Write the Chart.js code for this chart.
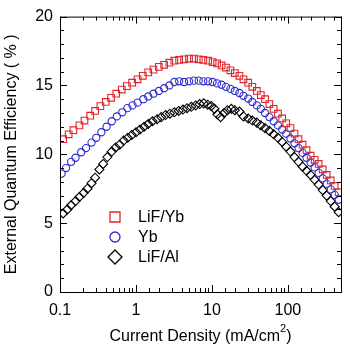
<!DOCTYPE html>
<html>
<head>
<meta charset="utf-8">
<script src="https://cdn.jsdelivr.net/npm/chart.js@4/dist/chart.umd.min.js"></script>
<style>
  html, body { margin: 0; padding: 0; background: #fff; }
</style>
</head>
<body>
<canvas id="eqe" width="350" height="349"></canvas>
<script>
// Series names, as in the legend
const seriesNames = ["LiF/Yb", "Yb", "LiF/Al"];

// Current density (mA/cm2) and EQE (%)
const lifYbX = [0.11, 0.13, 0.15, 0.18, 0.21, 0.25, 0.29, 0.34, 0.40, 0.47, 0.55, 0.65, 0.76, 0.89, 1.05, 1.23, 1.45, 1.7, 2.0, 2.35,
  2.75, 3.2, 3.7, 4.3, 5.0, 5.8, 6.7, 7.7, 8.9, 10.2, 11.7, 13.4, 15.3, 17.5, 20, 23, 26, 30, 34, 39,
  44, 50, 57, 65, 74, 84, 95, 108, 122, 138, 156, 176, 199, 225, 254, 287, 324, 366, 413, 466];
const lifYbEqe = [11.1, 11.45, 11.75, 12.1, 12.45, 12.8, 13.15, 13.5, 13.8, 14.1, 14.4, 14.7, 14.95, 15.2, 15.45, 15.7, 15.95, 16.15, 16.35, 16.5,
  16.65, 16.8, 16.85, 16.9, 16.95, 16.95, 16.9, 16.85, 16.8, 16.7, 16.6, 16.45, 16.3, 16.1, 15.9, 15.7, 15.45, 15.2, 14.9, 14.6,
  14.3, 14.0, 13.65, 13.3, 12.95, 12.6, 12.25, 11.9, 11.5, 11.1, 10.7, 10.3, 9.9, 9.6, 9.3, 8.9, 8.5, 8.1, 7.7, 7.25];

const ybX = [0.105, 0.12, 0.14, 0.16, 0.19, 0.22, 0.26, 0.30, 0.35, 0.41, 0.48, 0.56, 0.66, 0.77, 0.90, 1.05, 1.25, 1.45, 1.7, 2.0,
  2.35, 2.75, 3.2, 3.7, 4.3, 5.0, 5.8, 6.7, 7.7, 8.9, 10.2, 11.7, 13.4, 15.3, 17.5, 20, 23, 26, 30, 34,
  39, 44, 50, 57, 65, 74, 84, 95, 108, 122, 138, 156, 176, 199, 225, 254, 287, 324, 366, 413, 466];
const ybEqe = [8.6, 9.0, 9.45, 9.75, 10.15, 10.45, 10.85, 11.2, 11.6, 12.0, 12.4, 12.75, 13.05, 13.35, 13.55, 13.75, 14.0, 14.2, 14.4, 14.6,
  14.8, 15.0, 15.25, 15.3, 15.25, 15.3, 15.35, 15.35, 15.3, 15.3, 15.25, 15.15, 15.05, 14.9, 14.75, 14.6, 14.45, 14.25, 14.05, 13.8,
  13.55, 13.3, 13.0, 12.7, 12.4, 12.1, 11.8, 11.5, 11.15, 10.8, 10.45, 10.1, 9.75, 9.4, 9.05, 8.65, 8.25, 7.85, 7.45, 7.05, 6.7];

const lifAlX = [0.11, 0.125, 0.14, 0.16, 0.18, 0.205, 0.23, 0.26, 0.29, 0.33, 0.37, 0.42, 0.48, 0.54, 0.61, 0.69, 0.78, 0.88, 1.0, 1.13,
  1.28, 1.45, 1.65, 1.9, 2.15, 2.45, 2.8, 3.2, 3.65, 4.15, 4.7, 5.35, 6.1, 6.9, 7.8, 8.8, 9.8, 10.8, 11.8, 13,
  14.5, 16, 18, 20, 23, 26, 30, 34, 39, 44, 50, 57, 65, 74, 84, 95, 108, 122, 138, 156,
  176, 199, 225, 254, 287, 324, 366, 413, 466];
const lifAlEqe = [5.7, 6.0, 6.3, 6.6, 6.9, 7.2, 7.5, 7.9, 8.3, 8.9, 9.3, 9.8, 10.2, 10.5, 10.7, 11.0, 11.2, 11.4, 11.6, 11.8,
  12.0, 12.2, 12.4, 12.55, 12.7, 12.85, 12.95, 13.05, 13.15, 13.25, 13.35, 13.45, 13.55, 13.65, 13.7, 13.6, 13.5, 13.3, 12.9, 12.7,
  13.0, 13.2, 13.3, 13.2, 13.1, 12.75, 12.6, 12.45, 12.3, 12.1, 11.9, 11.7, 11.45, 11.2, 10.9, 10.55, 10.2, 9.8, 9.45, 9.1,
  8.8, 8.5, 8.15, 7.8, 7.4, 7.0, 6.6, 6.2, 5.8];

// Labelled ticks
const xTickLabels = [0.1, 1, 10, 100];
const yTickLabels = [0, 5, 10, 15, 20];

const RED = "#e0262b";
const BLUE = "#2b2bd0";
const BLACK = "#000000";
const FONT = "'Liberation Sans', Arial, sans-serif";

function toPoints(xs, ys) {
  return xs.map((x, i) => ({ x: x, y: ys[i] }));
}

// Draws the frame, inward ticks on all four sides, axis titles and the legend
const framePlugin = {
  id: "frame",
  afterDraw: function (chart) {
    const ctx = chart.ctx;
    const area = chart.chartArea;
    const xs = chart.scales.x;
    const ys = chart.scales.y;

    ctx.save();
    ctx.strokeStyle = "#000";
    ctx.lineWidth = 1;
    ctx.strokeRect(area.left + 0.5, area.top + 0.5, area.right - area.left, area.bottom - area.top);

    ctx.beginPath();
    xs.ticks.forEach(t => {
      const px = Math.round(xs.getPixelForValue(t.value)) + 0.5;
      const major = xTickLabels.indexOf(t.value) >= 0;
      const len = major ? 7 : 4;
      ctx.moveTo(px, area.bottom);
      ctx.lineTo(px, area.bottom - len);
      ctx.moveTo(px, area.top);
      ctx.lineTo(px, area.top + len);
    });
    ys.ticks.forEach(t => {
      const py = Math.round(ys.getPixelForValue(t.value)) + 0.5;
      const major = t.value % 5 === 0;
      const len = major ? 7 : 4;
      ctx.moveTo(area.left, py);
      ctx.lineTo(area.left + len, py);
      ctx.moveTo(area.right, py);
      ctx.lineTo(area.right - len, py);
    });
    ctx.stroke();

    // axis titles
    ctx.fillStyle = "#000";
    ctx.textBaseline = "alphabetic";
    const main = "Current Density (mA/cm";
    const sup = "2";
    const tail = ")";
    ctx.font = "16px " + FONT;
    const wMain = ctx.measureText(main).width;
    const wTail = ctx.measureText(tail).width;
    ctx.font = "11px " + FONT;
    const wSup = ctx.measureText(sup).width;
    const cx = (area.left + area.right) / 2;
    const tx = cx - (wMain + wSup + wTail) / 2;
    ctx.textAlign = "left";
    ctx.font = "16px " + FONT;
    ctx.fillText(main, tx, 341);
    ctx.font = "11px " + FONT;
    ctx.fillText(sup, tx + wMain, 332);
    ctx.font = "16px " + FONT;
    ctx.fillText(tail, tx + wMain + wSup, 341);

    ctx.save();
    ctx.translate(16, (area.top + area.bottom) / 2);
    ctx.rotate(-Math.PI / 2);
    ctx.textAlign = "center";
    ctx.fillText("External Quantum Efficiency ( % )", 0, 0);
    ctx.restore();

    // legend inside the plot
    const rows = [
      { y: 217, color: RED, shape: "square" },
      { y: 237, color: BLUE, shape: "circle" },
      { y: 257, color: BLACK, shape: "diamond" }
    ];
    rows.forEach((r, i) => {
      const mx = 115;
      ctx.strokeStyle = r.color;
      ctx.lineWidth = 1.3;
      ctx.beginPath();
      if (r.shape === "square") {
        ctx.rect(mx - 5, r.y - 5, 10, 10);
      } else if (r.shape === "circle") {
        ctx.arc(mx, r.y, 5, 0, Math.PI * 2);
      } else {
        ctx.moveTo(mx, r.y - 7);
        ctx.lineTo(mx + 7, r.y);
        ctx.lineTo(mx, r.y + 7);
        ctx.lineTo(mx - 7, r.y);
        ctx.closePath();
      }
      ctx.stroke();
      ctx.fillStyle = "#000";
      ctx.font = "16px " + FONT;
      ctx.textAlign = "left";
      ctx.textBaseline = "middle";
      ctx.fillText(seriesNames[i], 138, r.y + 1);
    });
    ctx.restore();
  }
};

const ctx = document.getElementById("eqe");
const chart = new Chart(ctx, {
  type: "scatter",
  data: {
    datasets: [
      {
        label: seriesNames[0],
        data: toPoints(lifYbX, lifYbEqe),
        pointStyle: "rect",
        pointRadius: 4.7,
        borderColor: RED,
        backgroundColor: "rgba(0,0,0,0)",
        borderWidth: 1.1,
        order: 1
      },
      {
        label: seriesNames[1],
        data: toPoints(ybX, ybEqe),
        pointStyle: "circle",
        pointRadius: 3.6,
        borderColor: BLUE,
        backgroundColor: "rgba(0,0,0,0)",
        borderWidth: 1.1,
        order: 2
      },
      {
        label: seriesNames[2],
        data: toPoints(lifAlX, lifAlEqe),
        pointStyle: "rectRot",
        pointRadius: 4.5,
        borderColor: BLACK,
        backgroundColor: "rgba(0,0,0,0)",
        borderWidth: 1.1,
        order: 3
      }
    ]
  },
  options: {
    responsive: false,
    animation: false,
    devicePixelRatio: 1,
    layout: { padding: { left: 0, right: 8, top: 10, bottom: 0 } },
    plugins: {
      legend: { display: false },
      tooltip: { enabled: false }
    },
    scales: {
      x: {
        type: "logarithmic",
        min: 0.1,
        max: 500,
        grid: { display: false, drawTicks: false },
        border: { display: false },
        afterFit: function (scale) { scale.height = 57; },
        ticks: {
          autoSkip: false,
          maxRotation: 0,
          padding: 9,
          color: "#000",
          font: { family: FONT, size: 16 },
          callback: function (value) {
            return xTickLabels.indexOf(value) >= 0 ? String(value) : "";
          }
        }
      },
      y: {
        min: 0,
        max: 20,
        grid: { display: false, drawTicks: false },
        border: { display: false },
        afterFit: function (scale) { scale.width = 60; },
        ticks: {
          stepSize: 1,
          autoSkip: false,
          padding: 7,
          color: "#000",
          font: { family: FONT, size: 16 },
          callback: function (value) {
            return yTickLabels.indexOf(value) >= 0 ? String(value) : "";
          }
        }
      }
    }
  },
  plugins: [framePlugin]
});
</script>
</body>
</html>
